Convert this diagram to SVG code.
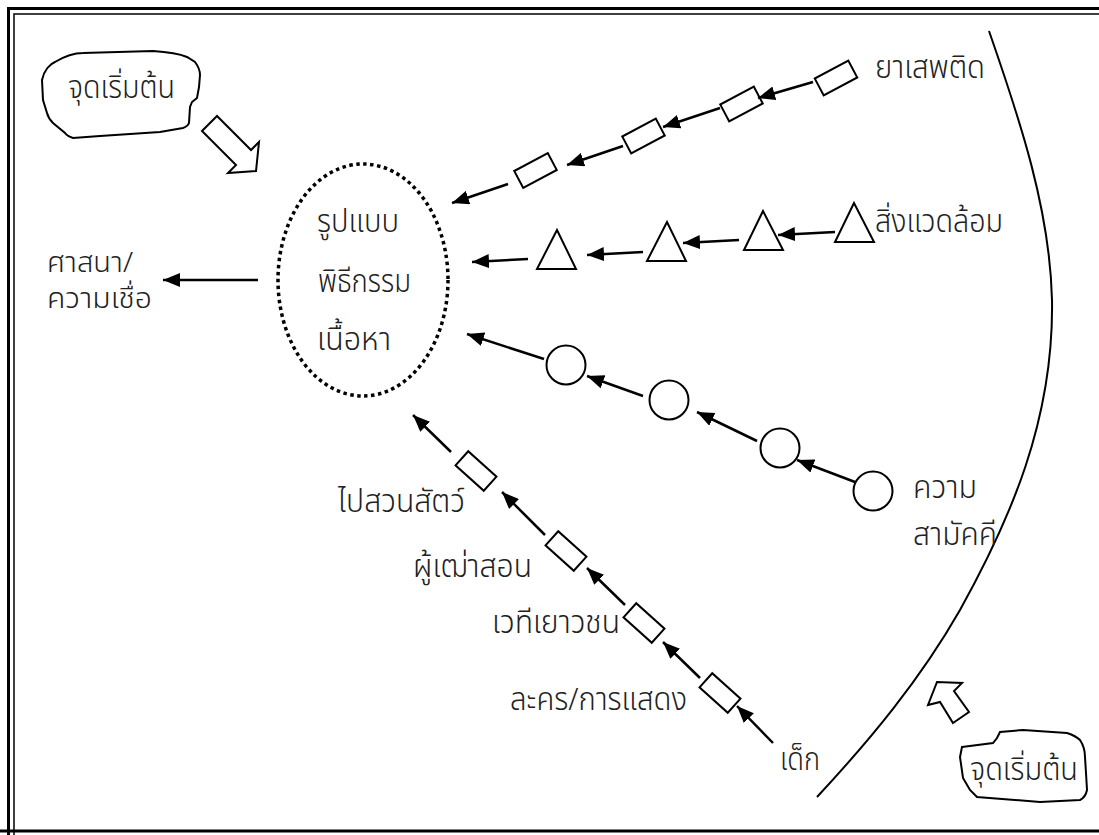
<svg xmlns="http://www.w3.org/2000/svg" width="1099" height="835" viewBox="0 0 1099 835">
<defs>
<style>
.t{font-family:"Noto Sans Thai","Noto Sans","DejaVu Sans",sans-serif;font-size:32px;font-weight:300;fill:#222}
.s{font-size:28px}
.ln{stroke:#000;stroke-width:2.5;fill:none}
.sh{fill:#fff;stroke:#000;stroke-width:2}
</style>
<marker id="ah" markerUnits="userSpaceOnUse" markerWidth="18" markerHeight="14" refX="17" refY="7" orient="auto"><path d="M0,0 L17,7 L0,14 z" fill="#000"/></marker>
<rect id="rc" x="-19" y="-9.5" width="38" height="19"/>
</defs>
<rect width="1099" height="835" fill="#fff"/>
<g id="frame" fill="none" stroke="#000">
<path d="M8.5,836 V8.5 H1100" stroke-width="3"/>
<path d="M14,836 V14 H1100" stroke-width="1.5"/>
<path d="M0,831 H1099" stroke-width="3"/>
</g>
<path id="curve" d="M989,31 C1020,120 1050,210 1052,300 C1054,420 1010,520 960,610 C920,680 870,740 817,797" fill="none" stroke="#000" stroke-width="2"/>
<g id="start1">
<path class="sh" d="M42,80 C44,70 50,64 55,62 C65,56 75,53 83,53 L153,51 C170,52 180,54 187,57 L195,62 C198,66 200,70 200,75 L199,87 L197,98 L192,102 L190,107 L189,123 C188,126 186,127 183,128 L160,132 L100,136 L73,138 C70,137 67,136 65,133 L53,123 C50,120 48,117 47,113 L43,100 Z"/>
<text class="t" x="68" y="98" textLength="107" lengthAdjust="spacingAndGlyphs">จุดเริ่มต้น</text>
</g>
<g id="start1-arrow"><polygon class="sh" points="202,131 217,116 251,150 259,142 256,171 228,173 236,165"/></g>
<g id="start2">
<path class="sh" d="M962,747 L993,743 L997,738 L1000,732 L1023,730 L1067,733 C1073,735 1077,737 1080,740 C1084,746 1085,751 1085,757 L1086,773 L1087,790 C1086,795 1084,798 1080,800 L1040,802 L977,797 L970,790 L963,778 L960,757 Z"/>
<text class="t" x="970" y="780" textLength="108" lengthAdjust="spacingAndGlyphs">จุดเริ่มต้น</text>
</g>
<g id="start2-arrow"><polygon class="sh" points="953,723 969,712 954,691 962,683 937,682 928,705 940,702"/></g>
<g id="center">
<ellipse cx="363" cy="280" rx="85" ry="116" fill="none" stroke="#000" stroke-width="3.5" stroke-dasharray="3.5 3.5"/>
<text class="t" x="317" y="232" textLength="82" lengthAdjust="spacingAndGlyphs">รูปแบบ</text>
<text class="t" x="318" y="292" textLength="93" lengthAdjust="spacingAndGlyphs">พิธีกรรม</text>
<text class="t" x="317" y="350" textLength="74" lengthAdjust="spacingAndGlyphs">เนื้อหา</text>
</g>
<g id="religion">
<text class="t s" x="47" y="272" textLength="86" lengthAdjust="spacingAndGlyphs">ศาสนา/</text>
<text class="t s" x="47" y="308" textLength="105" lengthAdjust="spacingAndGlyphs">ความเชื่อ</text>
</g>
<g id="drugs">
<use href="#rc" class="sh" transform="translate(535.5,170.5) rotate(-28)"/>
<use href="#rc" class="sh" transform="translate(643.5,136) rotate(-28)"/>
<use href="#rc" class="sh" transform="translate(741.5,104) rotate(-28)"/>
<use href="#rc" class="sh" transform="translate(836,78) rotate(-28)"/>
<text class="t" x="875" y="78" textLength="110" lengthAdjust="spacingAndGlyphs">ยาเสพติด</text>
</g>
<g id="env">
<polygon class="sh" points="557,230 537,269 576,269"/>
<polygon class="sh" points="667,222 647,261 686,261"/>
<polygon class="sh" points="763,211 744,250 783,250"/>
<polygon class="sh" points="854,203 835,242 874,242"/>
<text class="t" x="875" y="232" textLength="128" lengthAdjust="spacingAndGlyphs">สิ่งแวดล้อม</text>
</g>
<g id="unity">
<circle class="sh" cx="566" cy="365" r="19.5"/>
<circle class="sh" cx="669" cy="400" r="19.5"/>
<circle class="sh" cx="780" cy="448" r="19.5"/>
<circle class="sh" cx="873" cy="491" r="19.5"/>
<text class="t" x="913" y="498" textLength="64" lengthAdjust="spacingAndGlyphs">ความ</text>
<text class="t" x="913" y="545" textLength="84" lengthAdjust="spacingAndGlyphs">สามัคคี</text>
</g>
<g id="child">
<use href="#rc" class="sh" transform="translate(476,471) rotate(42)"/>
<use href="#rc" class="sh" transform="translate(566,551) rotate(42)"/>
<use href="#rc" class="sh" transform="translate(644,623) rotate(42)"/>
<use href="#rc" class="sh" transform="translate(720,693) rotate(42)"/>
<text class="t" x="338" y="512" textLength="127" lengthAdjust="spacingAndGlyphs">ไปสวนสัตว์</text>
<text class="t" x="413" y="577" textLength="119" lengthAdjust="spacingAndGlyphs">ผู้เฒ่าสอน</text>
<text class="t" x="492" y="633" textLength="128" lengthAdjust="spacingAndGlyphs">เวทีเยาวชน</text>
<text class="t" x="510" y="710" textLength="177" lengthAdjust="spacingAndGlyphs">ละคร/การแสดง</text>
<text class="t" x="780" y="770" textLength="40" lengthAdjust="spacingAndGlyphs">เด็ก</text>
</g>
<g id="connectors" class="ln" marker-end="url(#ah)">
<line x1="258" y1="280" x2="163" y2="280"/>
<line x1="813" y1="82" x2="758" y2="98"/>
<line x1="720" y1="108" x2="663" y2="127"/>
<line x1="623" y1="146" x2="567" y2="165"/>
<line x1="508" y1="184" x2="452" y2="203"/>
<line x1="835" y1="232" x2="778" y2="235"/>
<line x1="739" y1="240" x2="683" y2="243"/>
<line x1="643" y1="252" x2="587" y2="255"/>
<line x1="528" y1="259" x2="472" y2="262"/>
<line x1="855" y1="482" x2="797" y2="460"/>
<line x1="757" y1="441" x2="697" y2="412"/>
<line x1="643" y1="396" x2="587" y2="376"/>
<line x1="544" y1="359" x2="467" y2="334"/>
<line x1="773" y1="743" x2="737" y2="706"/>
<line x1="700" y1="678" x2="663" y2="642"/>
<line x1="625" y1="605" x2="587" y2="568"/>
<line x1="545" y1="535" x2="502" y2="492"/>
<line x1="451" y1="452" x2="413" y2="415"/>
</g>
</svg>
